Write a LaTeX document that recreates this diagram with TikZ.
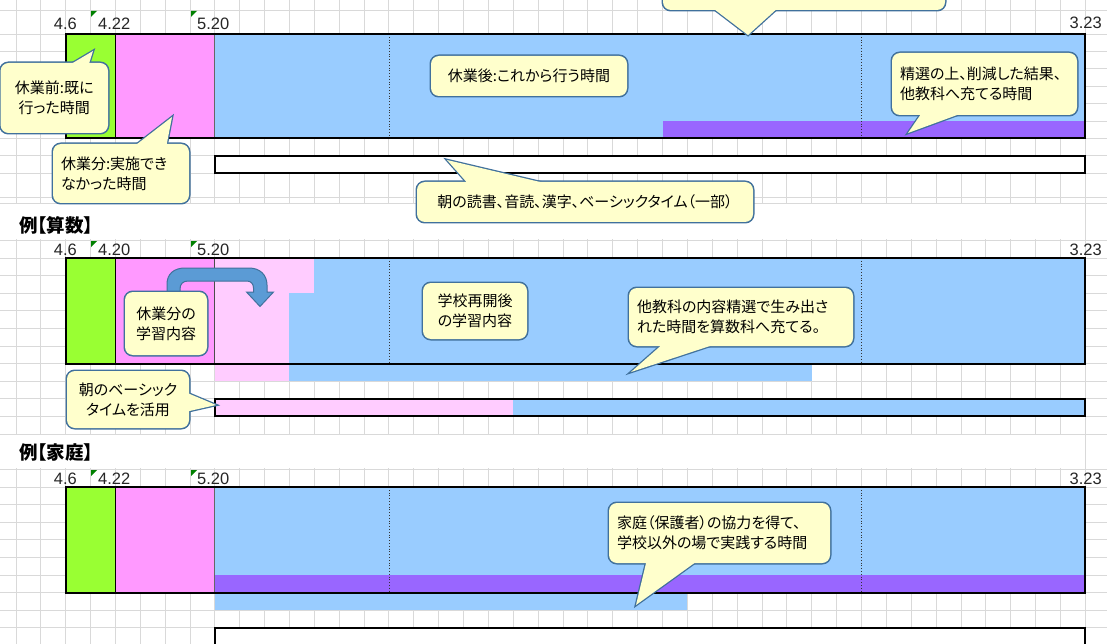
\documentclass[tikz,border=0pt]{standalone}
\usepackage{fontspec}
\setmainfont[RawFeature=+palt]{Noto Sans CJK JP}
\newfontfamily\numfont{Liberation Sans}
\pgfdeclarelayer{bg}
\pgfdeclarelayer{outl}
\pgfsetlayers{bg,outl,main}
\definecolor{cgreen}{HTML}{99FF33}
\definecolor{cpink}{HTML}{FF99FF}
\definecolor{clpink}{HTML}{FFCCFF}
\definecolor{cblue}{HTML}{99CCFF}
\definecolor{cpurple}{HTML}{9966FF}
\definecolor{cfill}{HTML}{FFFFCC}
\definecolor{cborder}{HTML}{41719C}
\definecolor{carrow}{HTML}{5B9BD5}
\definecolor{cgrid}{HTML}{D9D9D9}
\definecolor{cmark}{HTML}{008000}
\tikzset{
 gridline/.style={draw=cgrid, line width=0.8pt},
 barframe/.style={draw=black, line width=1.9pt},
 divline/.style={draw=black, line width=0.8pt},
 dotline/.style={draw=black!80, line width=0.8pt, dotted},
 numlbl/.style={font=\numfont\fontsize{16.5}{16}\selectfont, inner sep=0pt, text=black!85},
 titlelbl/.style={font=\bfseries\fontsize{18.5}{20}\selectfont, inner sep=0pt, anchor=west},
 callbox/.style={fill=cfill, rounded corners=8pt, inner xsep=8pt, inner ysep=0pt, font=\fontsize{15}{20}\selectfont},
 cbline/.style={draw=cborder, line width=2.6pt},
 cmarker/.style={fill=cmark},
 arrowshape/.style={fill=carrow, draw=cborder, line width=1pt}
}
\newcommand\cbout[1]{\begin{pgfonlayer}{outl}\draw[cbline, rounded corners=8pt] (#1.south west) rectangle (#1.north east);\end{pgfonlayer}}
\newcommand\cbtail[3]{\begin{pgfonlayer}{outl}\draw[cbline, line join=miter] #1 -- #2 -- #3;\end{pgfonlayer}\fill[cfill] #1 -- #2 -- #3 -- cycle;}
\begin{document}
\begin{tikzpicture}[x=1pt,y=-1pt]
\useasboundingbox (0,0) rectangle (1107,644);
\begin{pgfonlayer}{bg}
\fill[white] (0,0) rectangle (1107,644);
% grid
\foreach \k in {0,...,42} {\draw[gridline] ({40.7+24.87*\k},0) -- ({40.7+24.87*\k},644);}
\draw[gridline] (16,0) -- (16,644);
\foreach \y in {10,34,51.4,68.8,86.2,103.6,121,138.4,155.8,173.2,197,203.5,240,258,275.6,293.2,310.8,328.4,346,363.6,381.2,398.8,416.4,434,469,487,504.6,522.2,539.8,557.4,575,592.6,610.2,627.8}
  {\draw[gridline] (0,\y) -- (1107,\y);}
\fill[white] (0,204.2) rectangle (1085.2,239.4);
\fill[white] (0,434.7) rectangle (1085.2,468.4);
% ---- section 1
\fill[cgreen] (65.6,34) rectangle (115.3,138.4);
\fill[cpink] (115.3,34) rectangle (214.8,138.4);
\fill[cblue] (214.8,34) rectangle (1085.2,138.4);
\fill[cpurple] (662.5,121) rectangle (1085.2,138.4);
\draw[divline] (115.3,34) -- (115.3,138.4);
\draw[divline, draw=black!60] (214.8,34) -- (214.8,138.4);
\draw[dotline] (388.9,34) -- (388.9,138.4);
\draw[dotline] (861.4,34) -- (861.4,138.4);
\draw[barframe] (65.6,34) rectangle (1085.2,138.4);
\draw[barframe, fill=white] (214.8,155.8) rectangle (1085.2,173.2);
% ---- section 2
\fill[cgreen] (65.6,258) rectangle (115.3,363.6);
\fill[cpink] (115.3,258) rectangle (214.8,363.6);
\fill[cblue] (214.8,258) rectangle (1085.2,363.6);
\fill[clpink] (214.8,258) rectangle (314.3,293.2);
\fill[clpink] (214.8,293.2) rectangle (289.4,381.2);
\fill[cblue] (289.4,363.6) rectangle (811.7,381.2);
\draw[divline] (115.3,258) -- (115.3,363.6);
\draw[divline, draw=black!70] (214.8,258) -- (214.8,363.6);
\draw[dotline] (388.9,258) -- (388.9,363.6);
\draw[dotline] (861.4,258) -- (861.4,363.6);
\draw[barframe] (65.6,258) rectangle (1085.2,363.6);
\fill[clpink] (214.8,398.8) rectangle (513.2,416.4);
\fill[cblue] (513.2,398.8) rectangle (1085.2,416.4);
\draw[barframe] (214.8,398.8) rectangle (1085.2,416.4);
% arrow
\draw[arrowshape] (167,300) -- (167,284) .. controls (167,274) and (174,268) .. (185,268)
  -- (249,268) .. controls (260,268) and (267,275) .. (267,285) -- (267,292)
  -- (273.5,292) -- (260,306.5) -- (246.5,292) -- (253.5,292) -- (253.5,288)
  .. controls (253.5,284) and (251,281) .. (247,281) -- (188,281)
  .. controls (183,281) and (180,284) .. (180,289) -- (180,300) -- cycle;
% ---- section 3
\fill[cgreen] (65.6,487) rectangle (115.3,592.6);
\fill[cpink] (115.3,487) rectangle (214.8,592.6);
\fill[cblue] (214.8,487) rectangle (1085.2,592.6);
\fill[cpurple] (214.8,575) rectangle (1085.2,592.6);
\fill[cblue] (214.8,592.6) rectangle (687.3,610.2);
\draw[divline] (115.3,487) -- (115.3,592.6);
\draw[divline, draw=black!60] (214.8,487) -- (214.8,592.6);
\draw[dotline] (388.9,487) -- (388.9,592.6);
\draw[dotline] (861.4,487) -- (861.4,592.6);
\draw[barframe] (65.6,487) rectangle (1085.2,592.6);
\draw[barframe, fill=white] (214.8,627.8) rectangle (1085.2,652);
% comment markers
\foreach \yy in {11,241,470} {
  \fill[cmarker] (91,\yy) -- (97,\yy) -- (91,\yy+6) -- cycle;
  \fill[cmarker] (191,\yy) -- (197,\yy) -- (191,\yy+6) -- cycle;
}
\end{pgfonlayer}
% labels
\node[numlbl, anchor=base east] (s1a) at (77,30) {4.6};
\node[numlbl, anchor=base west] (s1b) at (98,30) {4.22};
\node[numlbl, anchor=base west] (s1c) at (197,30) {5.20};
\node[numlbl, anchor=base east] (s1d) at (1102,29) {3.23};
\node[titlelbl] (t2) at (19,225) {例【算数】};
\node[numlbl, anchor=base east] (s2a) at (77,255) {4.6};
\node[numlbl, anchor=base west] (s2b) at (98,255) {4.20};
\node[numlbl, anchor=base west] (s2c) at (197,255) {5.20};
\node[numlbl, anchor=base east] (s2d) at (1102,255) {3.23};
\node[titlelbl] (t3) at (19,453) {例【家庭】};
\node[numlbl, anchor=base east] (s3a) at (77,484) {4.6};
\node[numlbl, anchor=base west] (s3b) at (98,484) {4.22};
\node[numlbl, anchor=base west] (s3c) at (197,484) {5.20};
\node[numlbl, anchor=base east] (s3d) at (1102,484) {3.23};
% callouts
\node[callbox, minimum width=107.5pt, minimum height=70pt, text width=91.5pt, align=center] (c1) at (54.3,98) {休業前:既に\\行った時間};
\cbout{c1}\cbtail{(66,67)}{(93,51)}{(88,67)}
\node[callbox, minimum width=136pt, minimum height=59pt, text width=120pt, align=left] (c2) at (121,173.5) {休業分:実施でき\\なかった時間};
\cbout{c2}\cbtail{(132,148)}{(172,117)}{(166,148)}
\node[callbox, minimum width=196pt, minimum height=40pt, text width=180pt, align=center] (c3) at (529,76) {休業後:これから行う時間};
\cbout{c3}
\node[callbox, minimum width=282pt, minimum height=50pt] (c4) at (804,-15) {};
\cbout{c4}\cbtail{(710,6)}{(748,35)}{(780,6)}
\node[callbox, minimum width=185pt, minimum height=62pt, text width=169pt, align=left] (c5) at (984.5,84) {精選の上、削減した結果、\\他教科へ充てる時間};
\cbout{c5}\cbtail{(923,111)}{(908,133)}{(968,111)}
\node[callbox, minimum width=336pt, minimum height=40pt, text width=320pt, align=center] (c6) at (585,202) {朝の読書、音読、漢字、ベーシックタイム（一部）};
\cbout{c6}\cbtail{(470,186)}{(447,160)}{(557,186)}
\node[callbox, minimum width=82pt, minimum height=63pt, text width=66pt, align=center] (c7) at (166,323.5) {休業分の\\学習内容};
\cbout{c7}
\node[callbox, minimum width=104pt, minimum height=56pt, text width=88pt, align=center] (c8) at (475,311) {学校再開後\\の学習内容};
\cbout{c8}
\node[callbox, minimum width=224pt, minimum height=58pt, text width=208pt, align=left] (c9) at (741,317) {他教科の内容精選で生み出さ\\れた時間を算数科へ充てる。};
\cbout{c9}\cbtail{(665,342)}{(631,372)}{(722,342)}
\node[callbox, minimum width=122pt, minimum height=57pt, text width=106pt, align=center] (c10) at (128,399.5) {朝のベーシック\\タイムを活用};
\cbout{c10}\cbtail{(185,392)}{(216,405)}{(185,412)}
\node[callbox, minimum width=221pt, minimum height=60pt, text width=205pt, align=left] (c11) at (719.5,533) {家庭（保護者）の協力を得て、\\学校以外の場で実践する時間};
\cbout{c11}\cbtail{(647,559)}{(636,605)}{(700,559)}
\end{tikzpicture}
\end{document}
